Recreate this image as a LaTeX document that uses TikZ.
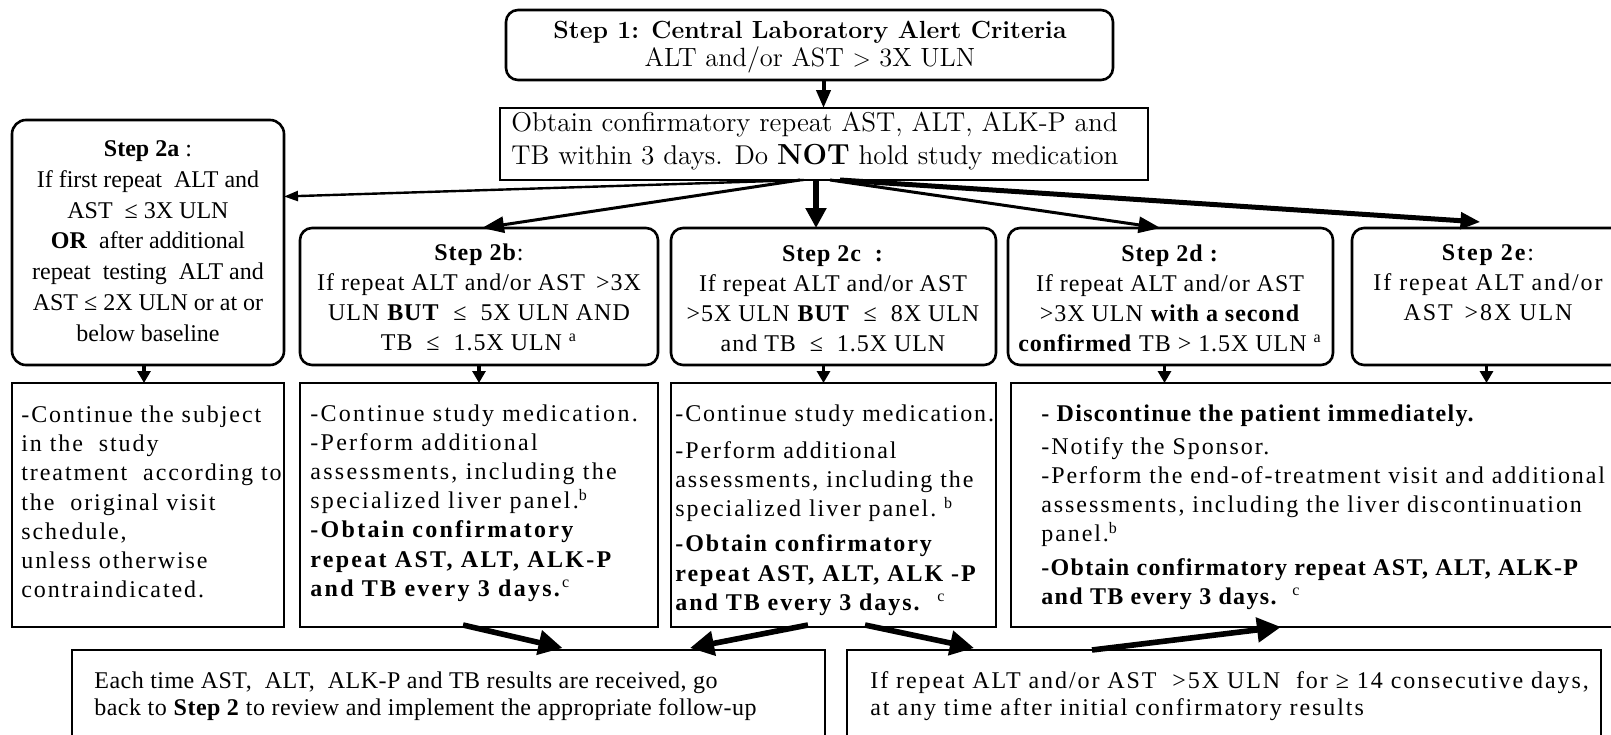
\documentclass[tikz,border=0pt]{standalone}
\usepackage{fontspec}
\newfontfamily\tnr{Liberation Serif}
\newfontfamily\tnrs[LetterSpace=2]{Liberation Serif}
\newfontfamily\tnrm[LetterSpace=4]{Liberation Serif}
\newfontfamily\tnrd[LetterSpace=5.5]{Liberation Serif}
\newfontfamily\tnrw[LetterSpace=8]{Liberation Serif}
\newfontfamily\tnrx[LetterSpace=9.5]{Liberation Serif}
\usetikzlibrary{arrows.meta,calc,fit}
\begin{document}
\begin{tikzpicture}[x=0.5pt,y=-0.5pt,
  box/.style={draw,line width=1.3pt,inner sep=0pt,outer sep=0pt},
  rbox/.style={box,rounded corners=6pt},
  lm/.style={inner sep=0pt,font=\fontsize{13.2}{14}\selectfont},
  ttl/.style={inner sep=0pt,align=center,font=\tnrm\fontsize{12}{15}\selectfont},
  act/.style={inner sep=0pt,align=left,anchor=west,font=\tnrw\fontsize{12}{14.6}\selectfont},
  bot/.style={inner sep=0pt,align=left,anchor=west,font=\tnrs\fontsize{12}{13.5}\selectfont},
  fanthin/.style={line width=1.2pt,-{Triangle[length=7pt,width=5pt]}},
  fanmid/.style={line width=1.5pt,-{Triangle[length=11pt,width=8pt]}},
  fanthick/.style={line width=2.8pt,-{Triangle[length=10pt,width=10pt]}},
  fanwide/.style={line width=2.5pt,-{Triangle[length=10pt,width=8pt]}},
  down/.style={line width=1.6pt,-{Triangle[length=6pt,width=6.5pt]}},
  topdown/.style={line width=2pt,-{Triangle[length=9pt,width=7pt]}},
  fat/.style={line width=2.8pt,-{Triangle[length=12pt,width=12pt]}}
]
\useasboundingbox (0,0) rectangle (1611,734);
\clip (0,0) rectangle (1611,734);
\fill[white] (0,0) rectangle (1611,734);

% boxes
\node[rbox,fit={(506,10)(1113,80)}] (s1) {};
\node[box,fit={(500,108)(1148,180)}] (ob) {};
\node[rbox,rounded corners=7pt,fit={(12,120)(284,365)}] (s2a) {};
\node[rbox,fit={(300,228)(658,365)}] (s2b) {};
\node[rbox,fit={(671,228)(996,365)}] (s2c) {};
\node[rbox,fit={(1008,228)(1333,365)}] (s2d) {};
\node[rbox,fit={(1352,228)(1625,365)}] (s2e) {};
\node[box,fit={(12,383)(284,627)}] (aA) {};
\node[box,fit={(300,383)(658,627)}] (aB) {};
\node[box,fit={(671,383)(996,627)}] (aC) {};
\node[box,fit={(1011,383)(1625,627)}] (aD) {};
\node[box,fit={(72,650)(825,760)}] (bL) {};
\node[box,fit={(847,650)(1601,760)}] (bR) {};

% texts
\node[lm,align=center] (t1) at (810,47) {{\fontsize{12.4}{14}\selectfont\bfseries Step 1: Central Laboratory Alert Criteria}\\ALT and/or AST $>$ 3X ULN};
\node[lm,align=left,anchor=west,font=\fontsize{13.6}{16.5}\selectfont] (tob) at (511,141) {Obtain confirmatory repeat AST, ALT, ALK-P and\\TB within 3 days. Do {\fontsize{14.5}{16}\selectfont\bfseries NOT} hold study medication};

\node[ttl,font=\tnr\fontsize{12}{15.4}\selectfont] (t2a) at (148,241) {\textbf{Step 2a} :\\If first repeat\ \ ALT and\\AST\ \ ≤\ 3X ULN\\\textbf{OR}\ \ after additional\\repeat\ \ testing\ \ ALT and\\AST ≤ 2X ULN or at or\\below baseline};
\node[ttl] (t2b) at (479,297) {\textbf{Step 2b}:\\If repeat ALT and/or AST \,>3X\\ULN \textbf{BUT}\ \ ≤\ \ 5X ULN AND\\TB\ \ ≤\ \ 1.5X ULN \textsuperscript{a}};
\node[ttl] (t2c) at (833,299) {\textbf{Step 2c\ \ :}\\If repeat ALT and/or AST\\>5X ULN\ \textbf{BUT}\ \ ≤\ \ 8X ULN\\and TB\ \ ≤\ \ 1.5X ULN};
\node[ttl] (t2d) at (1170,298) {\textbf{Step 2d\ :}\\If repeat ALT and/or AST\\>3X ULN\ \textbf{with a second}\\\textbf{confirmed}\ TB > 1.5X ULN \textsuperscript{a}};
\node[ttl,font=\tnrw\fontsize{12}{15}\selectfont] (t2e) at (1488,283) {\textbf{Step 2e}:\\If repeat ALT and/or\\AST \,>8X ULN};

\node[act] (tA) at (21,502) {-Continue the subject\\in the\ \ study\\treatment\ \ according to\\the\ \ original visit\\schedule,\\unless otherwise\\contraindicated.};
\node[act,font=\tnrx\fontsize{12}{14.6}\selectfont] (tB) at (310,503) {-Continue study medication.\\-Perform additional\\assessments, including the\\specialized liver panel.\textsuperscript{b}\\\textbf{-Obtain confirmatory}\\\textbf{repeat AST, ALT, ALK-P}\\\textbf{and TB every 3 days.}\textsuperscript{c}};
\node[act] (tC) at (675,510) {-Continue study medication.\\[4pt]-Perform additional\\assessments, including the\\specialized liver panel.\ \textsuperscript{b}\\[3pt]\textbf{-Obtain confirmatory}\\\textbf{repeat AST, ALT, ALK -P}\\\textbf{and TB every 3 days.}\ \ \textsuperscript{c}};
\node[act] (tD) at (1041,507) {{\tnrd\bfseries - Discontinue the patient immediately.}\\[2pt]-Notify the Sponsor.\\-Perform the end-of-treatment visit and additional\\assessments, including the liver discontinuation\\panel.\textsuperscript{b}\\[2pt]{\tnrd\bfseries -Obtain confirmatory repeat AST, ALT, ALK-P}\\{\tnrd\bfseries and TB every 3 days.}\ \ \textsuperscript{c}};

\node[bot] (tL) at (94,696) {Each time AST,\ \ ALT,\ \ ALK-P and TB results are received, go\\back to \textbf{Step 2} to review and implement the appropriate follow-up};
\node[bot,font=\tnrw\fontsize{12}{13.5}\selectfont] (tR) at (870,696) {If repeat ALT and/or AST\ \ >5X ULN\ \ for ≥ 14 consecutive days,\\at any time after initial confirmatory results};

% arrows
\draw[topdown] ([xshift=7pt]s1.south) -- ([xshift=7pt]s1.south |- ob.north);
\draw[fanthin] ([xshift=-10pt]ob.south) -- ([yshift=23pt]s2a.east);
\draw[fanmid] ([xshift=-12pt]ob.south) -- ([xshift=1.5pt]s2b.north);
\draw[fanthick] ([xshift=-4pt]ob.south) -- ([xshift=-4pt]ob.south |- s2c.north);
\draw[fanmid] ([xshift=3pt]ob.south) -- ([xshift=-5pt]s2d.north);
\draw[fanwide] ([xshift=8pt]ob.south) -- ([xshift=-4pt,yshift=3pt]s2e.north);

\draw[down] ([xshift=-2pt]s2a.south) -- ([xshift=-2pt]s2a.south |- aA.north);
\draw[down] (s2b.south) -- (s2b.south |- aB.north);
\draw[down] ([xshift=-5pt]s2c.south) -- ([xshift=-5pt]s2c.south |- aC.north);
\draw[down] ([xshift=-3pt]s2d.south) -- ([xshift=-3pt]s2d.south |- aD.north);
\draw[down] ([xshift=-1pt]s2e.south) -- ([xshift=-1pt]s2e.south |- aD.north);

\draw[fat] ([xshift=-8pt,yshift=1pt]aB.south) -- ([xshift=57pt,yshift=1pt]bL.north);
\draw[fat] ([xshift=-12.75pt,yshift=1pt]aC.south) -- ([xshift=120.75pt,yshift=1pt]bL.north);
\draw[fat] ([xshift=15.75pt,yshift=1pt]aC.south) -- ([xshift=-125pt,yshift=1pt]bR.north);
\draw[fat] ([xshift=-66pt]bR.north) -- ([xshift=-18.5pt]aD.south);
\end{tikzpicture}
\end{document}
